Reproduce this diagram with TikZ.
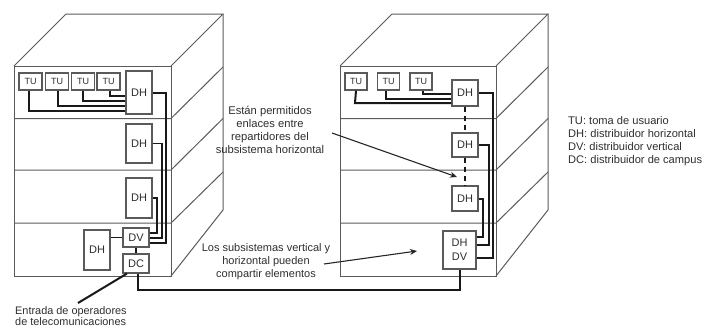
\documentclass[tikz,border=0pt]{standalone}
\usepackage{fontspec}
\setmainfont{Liberation Sans}
\usetikzlibrary{arrows.meta}
\definecolor{ink}{HTML}{2E2E2E}
\definecolor{wall}{HTML}{5A5A5A}
\tikzset{
  wall/.style={draw=wall,line width=1pt},
  box/.style={draw=wall,fill=white,line width=1.2pt,inner sep=0pt,text=ink,font=\fontsize{11}{12}\selectfont,align=center},
  tubox/.style={box,minimum width=23pt,minimum height=17pt,font=\fontsize{9}{10}\selectfont},
  dhbox/.style={box,minimum width=26pt},
  wire/.style={draw=black!90,line width=2pt},
  thinwire/.style={draw=black!90,line width=1.5pt},
  dashwire/.style={draw=black!90,line width=2pt,dash pattern=on 5pt off 4pt},
  callout/.style={draw=black!85,line width=1.1pt,-{Stealth[length=7pt,width=6pt]}},
  lbl/.style={inner sep=0pt,text=ink,font=\fontsize{11.2}{13.2}\selectfont,align=center},
  leg/.style={inner sep=0pt,text=ink,font=\fontsize{11.1}{13}\selectfont,align=left,anchor=west}
}
\begin{document}
\begin{tikzpicture}[x=1pt,y=-1pt]
\useasboundingbox (0,0) rectangle (703,327);
% Left building
\draw[wall] (14,66) rectangle (171,276);
\draw[wall] (14,66) -- (66,14) -- (223,14) -- (171,66);
\draw[wall] (223,14) -- (223,210) -- (171,276);
\draw[wall] (14,118.5) -- (171,118.5) -- (223,67);
\draw[wall] (14,170) -- (171,170) -- (223,118.5);
\draw[wall] (14,223) -- (171,223) -- (223,172);
% Right building
\draw[wall] (340,66) rectangle (496,276);
\draw[wall] (340,66) -- (392,14) -- (548,14) -- (496,66);
\draw[wall] (548,14) -- (548,210) -- (496,276);
\draw[wall] (340,118.5) -- (496,118.5) -- (548,67);
\draw[wall] (340,170) -- (496,170) -- (548,118.5);
\draw[wall] (340,223) -- (496,223) -- (548,172);
% Left boxes
\node[tubox] (ltu1) at (30.5,81.5) {TU};
\node[tubox] (ltu2) at (57,81.5) {TU};
\node[tubox] (ltu3) at (83,81.5) {TU};
\node[tubox] (ltu4) at (108.5,81.5) {TU};
\node[dhbox,minimum height=43pt] (ldh1) at (139,92.5) {DH};
\node[dhbox,minimum height=39pt] (ldh2) at (139,143.5) {DH};
\node[dhbox,minimum height=40pt] (ldh3) at (139,198) {DH};
\node[dhbox,minimum height=40pt] (ldh4) at (97,250) {DH};
\node[dhbox,minimum height=19pt] (ldv) at (136,237.5) {DV};
\node[dhbox,minimum height=19pt] (ldc) at (136,263.5) {DC};
% Left wires
\draw[wire] (ltu1.south) ++(-1.5,0) |- (ldh1.west |- 0,111);
\draw[wire] (ltu2.south) ++(1,0) |- (ldh1.west |- 0,106);
\draw[wire] (ltu3.south) |- (ldh1.west |- 0,101);
\draw[wire] (ltu4.south) ++(1.5,0) |- (ldh1.west |- 0,96);
\draw[wire] (ldh1.east) -- (166,92.5) |- (ldv.east |- 0,243);
\draw[thinwire] (ldh2.east) -- (162,143.5) |- (ldv.east |- 0,238);
\draw[thinwire] (ldh3.east) -- (157,198) |- (ldv.east |- 0,233);
\draw[thinwire] (ldh4.east |- ldv.west) -- (ldv.west);
\draw[thinwire] (ldv.south) -- (ldc.north);
\coordinate (entry) at (78,303);
\draw[wire] (ldc.south west) ++(4.5,0) -- (entry);
% Right boxes
\node[tubox,minimum width=22pt] (rtu1) at (356,81.5) {TU};
\node[tubox,minimum width=22pt] (rtu2) at (388.5,81.5) {TU};
\node[tubox,minimum width=22pt] (rtu3) at (421,81.5) {TU};
\node[dhbox,minimum height=26pt] (rdh1) at (465,93) {DH};
\node[dhbox,minimum height=24pt] (rdh2) at (465,145) {DH};
\node[dhbox,minimum height=25pt] (rdh3) at (465,198.5) {DH};
\node[box,minimum width=33pt,minimum height=38pt,font=\fontsize{11}{14}\selectfont] (rdd) at (459.5,250) {DH\\DV};
% Right wires
\draw[wire] (rtu1.south) -- (355,103) -- (rdh1.west |- 0,103);
\draw[wire] (rtu2.south) ++(-2.5,0) |- (rdh1.west |- 0,99);
\draw[wire] (rtu3.south) ++(2,0) |- (rdh1.west |- 0,93.5);
\draw[wire] (rdh1.east) -- (493,93) |- (rdd.east |- 0,258);
\draw[wire] (rdh2.east) -- (489,145) |- (rdd.east |- 0,245);
\draw[wire] (rdh3.east) -- (483,198.5) |- (rdd.east |- 0,237);
\draw[dashwire] (rdh1.south) -- (rdh2.north);
\draw[dashwire] (rdh2.south) -- (rdh3.north);
\draw[wire] (ldc.south) ++(2,0) |- (rdd.south |- 0,290) -- (rdd.south);
\node[lbl] (t1) at (270,130) {Están permitidos\\enlaces entre\\repartidores del\\subsistema horizontal};
\node[lbl,font=\fontsize{11}{13}\selectfont] (t2) at (266,262) {Los subsistemas vertical y\\horizontal pueden\\compartir elementos};
\node[leg] (t3) at (568,141.5) {TU: toma de usuario\\DH: distribuidor horizontal\\DV: distribuidor vertical\\DC: distribuidor de campus};
\node[leg,font=\fontsize{10.9}{11}\selectfont] (t4) at (15,316.5) {Entrada de operadores\\de telecomunicaciones};
\coordinate (a1) at (332,133);
\coordinate (a2) at (457,177);
\coordinate (a3) at (324,264);
\coordinate (a4) at (417,251);
\draw[callout] (a1) -- (a2);
\draw[callout] (a3) -- (a4);
\end{tikzpicture}
\end{document}
